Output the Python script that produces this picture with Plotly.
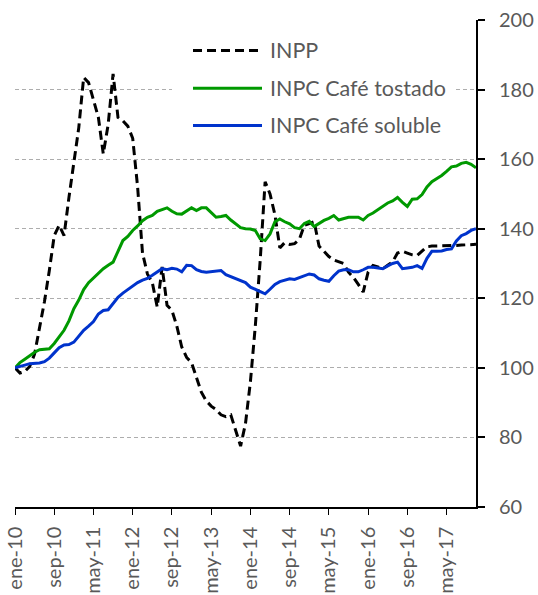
import plotly.graph_objects as go

# --- data -------------------------------------------------------------
meses = ["ene", "feb", "mar", "abr", "may", "jun", "jul", "ago", "sep", "oct", "nov", "dic"]
years = [10, 11, 12, 13, 14, 15, 16, 17]
n_months = 95  # ene-10 .. nov-17
months = [f"{meses[i % 12]}-{years[i // 12]}" for i in range(n_months)]

inpp = [100, 98.5, 99, 100.4, 104, 111, 119, 128, 138, 141,
        138, 149, 159, 169, 183.5, 182, 177, 172, 161.5, 170,
        184.5, 172, 171, 169.5, 166, 152, 133, 127, 124.5, 117.5,
        129, 118, 116.5, 112, 106, 103, 101.5, 97, 93, 90.5,
        89, 88, 86.5, 86, 86.5, 82, 77.5, 84, 96, 112,
        131, 153.5, 150, 144, 134.5, 136, 135.5, 135.7, 137, 141,
        141.5, 142, 135, 133.5, 132, 131, 130.5, 130, 127.5, 126,
        124, 121.8, 127.5, 129.4, 129, 128.5, 129.5, 130.5, 133, 133.5,
        133, 132.5, 132.3, 133.5, 134.8, 135, 135, 135, 135, 135,
        135.2, 135.3, 135.4, 135.4, 135.5]

cafe_tostado = [100, 101.5, 102.5, 103.6, 104.5, 105.2, 105.3, 105.5, 107, 109,
                110.8, 113.5, 117, 119.5, 122.5, 124.5, 125.8, 127, 128.5, 129.5,
                130.4, 133.5, 136.6, 137.8, 139.5, 140.8, 142.3, 143.3, 143.8, 145,
                145.6, 146, 145, 144.3, 144.2, 145.2, 146, 145.2, 146, 146,
                144.5, 143.3, 143.5, 143.8, 142.5, 141.4, 140.3, 140, 139.9, 139.5,
                137.1, 136.6, 138.5, 142, 142.8, 142, 141.4, 140.3, 140, 141.5,
                142.1, 140.6, 141.5, 142.4, 143, 143.8, 142.5, 142.8, 143.3, 143.3,
                143.3, 142.5, 143.8, 144.5, 145.5, 146.5, 147.4, 148, 149, 147.6,
                146.4, 148.5, 148.6, 149.8, 152, 153.5, 154.3, 155.3, 156.5, 157.8,
                158, 158.8, 159.1, 158.5, 157.5]

cafe_soluble = [100, 100.3, 100.8, 101.2, 101.3, 101.4, 101.8, 102.8, 104.3, 105.8,
                106.6, 106.7, 107.4, 109.2, 110.8, 112, 113.3, 115.5, 116.5, 116.7,
                118.5, 120.3, 121.5, 122.5, 123.5, 124.5, 125.2, 125.7, 126.6, 127.5,
                128.5, 128.2, 128.6, 128.4, 127.6, 129.5, 129.4, 128.2, 127.7, 127.5,
                127.7, 127.9, 128, 126.8, 126.2, 125.7, 125, 124.5, 123.2, 122.5,
                122, 121.3, 122.6, 124, 124.8, 125.1, 125.6, 125.4, 126, 126.5,
                127, 126.7, 125.6, 125.2, 124.9, 126.5, 127.8, 128.2, 128.2, 127.6,
                127.6, 128.2, 128.9, 128.9, 128.8, 128.5, 129.3, 130, 130.4, 128.5,
                128.7, 128.9, 129.4, 128.6, 131.5, 133.5, 133.5, 133.6, 134, 134.2,
                136.5, 138, 138.6, 139.5, 140]

series_names = ["INPP", "INPC Café tostado", "INPC Café soluble"]
y_ticks = [60, 80, 100, 120, 140, 160, 180, 200]
x_tick_labels = months[::8]

# --- styles -----------------------------------------------------------
FONT = "Lato"
TXT = "#595959"
colors = ["#000000", "#009900", "#0033CC"]
dashes = ["9px,5px", "solid", "solid"]

fig = go.Figure()
for name, vals, col, dsh in zip(series_names, [inpp, cafe_tostado, cafe_soluble], colors, dashes):
    fig.add_trace(go.Scatter(x=months, y=vals, mode="lines", name=name,
                             line=dict(color=col, width=3, dash=dsh),
                             showlegend=False, hoverinfo="skip"))

# plot area in page pixels: x 15..476, y 19.5..507 (body margin removed below)
W, H = 538, 595
L, T = 15, 19.5
R, B = W - 476, H - 507
pw, ph = W - L - R, H - T - B

def px(x):  # page px -> paper
    return (x - L) / pw

def py(y):
    return (H - B - y) / ph

shapes = [
    # white legend background (breaks the 180 gridline)
    dict(type="rect", xref="paper", yref="paper", x0=px(172), x1=px(455),
         y0=py(145), y1=py(30), fillcolor="white", line=dict(width=0), layer="above"),
]
annotations = []
rows = [50, 87.7, 125]
for name, col, dsh, ry in zip(series_names, colors, dashes, rows):
    shapes.append(dict(type="line", xref="paper", yref="paper",
                       x0=px(193), x1=px(262), y0=py(ry), y1=py(ry),
                       line=dict(color=col, width=3, dash=dsh), layer="above"))
    annotations.append(dict(xref="paper", yref="paper", x=px(268), y=py(ry),
                            text=name, showarrow=False, xanchor="left", yanchor="middle",
                            font=dict(family=FONT, size=21.5, color=TXT)))

fig.update_layout(
    width=W, height=H,
    margin=dict(l=L, r=R, t=T, b=B, autoexpand=False),
    paper_bgcolor="white", plot_bgcolor="white",
    shapes=shapes, annotations=annotations,
    showlegend=False, hovermode=False,
)
fig.update_xaxes(
    type="category", range=[0, n_months - 1], automargin=False,
    tickmode="array", tickvals=x_tick_labels, ticktext=x_tick_labels,
    tickangle=-90, ticks="outside", ticklen=6, tickcolor="black", tickwidth=1,
    showline=True, linecolor="black", linewidth=1.5,
    showgrid=False, zeroline=False, ticklabelstandoff=4,
    tickfont=dict(family=FONT, size=20, color=TXT),
)
fig.update_yaxes(
    side="right", range=[60, 200], tickvals=y_ticks, automargin=False,
    ticks="outside", ticklen=7, tickcolor="black", tickwidth=1.5,
    showline=True, linecolor="black", linewidth=2,
    showgrid=True, gridcolor="#ADADAD", gridwidth=1, griddash="4px,3px",
    zeroline=False, ticklabelstandoff=10, ticklabeloverflow="allow",
    tickfont=dict(family=FONT, size=20, color=TXT),
)

fig.write_html("out.html", config={"displayModeBar": False},
               post_script="document.body.style.margin='0';")
